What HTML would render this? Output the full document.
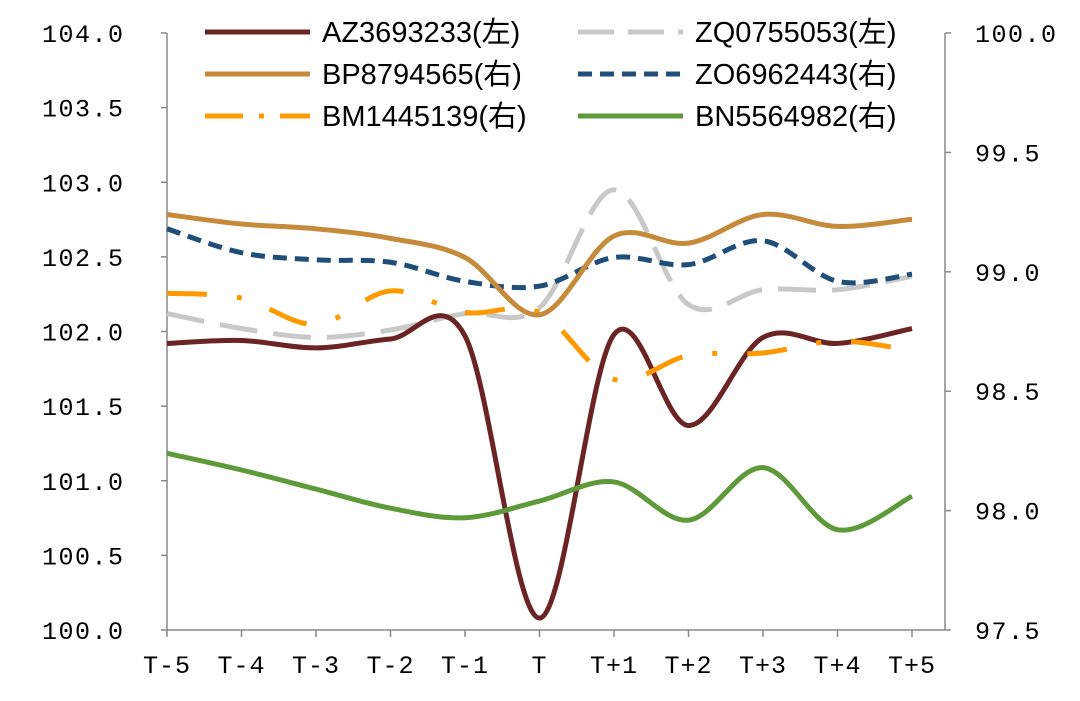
<!DOCTYPE html>
<html><head><meta charset="utf-8"><style>
html,body{margin:0;padding:0;background:#fff;}
svg{display:block;font-family:"Liberation Sans","Noto Sans CJK SC",sans-serif;}
.tk{font-family:"Liberation Mono","Noto Sans CJK SC",monospace;}
</style></head><body>
<svg id="chart" width="1080" height="701">
<g id="axes"></g><g id="series"></g><g id="legend"></g>
</svg>
<script>
const categories=["T-5","T-4","T-3","T-2","T-1","T","T+1","T+2","T+3","T+4","T+5"];
const leftTicks=["100.0","100.5","101.0","101.5","102.0","102.5","103.0","103.5","104.0"];
const rightTicks=["97.5","98.0","98.5","99.0","99.5","100.0"];
const azValues=[101.92,101.94,101.89,101.95,101.97,100.08,101.98,101.37,101.96,101.92,102.02];
const zqValues=[102.12,102.02,101.96,102.01,102.12,102.16,102.95,102.18,102.28,102.28,102.37];
const bpValues=[99.24,99.20,99.18,99.14,99.06,98.82,99.15,99.12,99.24,99.19,99.22];
const zoValues=[99.18,99.08,99.05,99.04,98.96,98.94,99.06,99.03,99.13,98.96,98.99];
const bmValues=[98.91,98.89,98.78,98.92,98.83,98.83,98.55,98.65,98.66,98.71,98.67];
const bnValues=[98.24,98.17,98.09,98.01,97.97,98.04,98.12,97.96,98.18,97.92,98.06];
const seriesNames=["AZ3693233(左)","ZQ0755053(左)","BP8794565(右)","ZO6962443(右)","BM1445139(右)","BN5564982(右)"];

const NS="http://www.w3.org/2000/svg";
const X0=167,X1=945,Y0=630,Y1=33;
const xs=i=>167+i*74.5;
const yL=v=>Y0-(v-100)/4*(Y0-Y1);
const yR=v=>Y0-(v-97.5)/2.5*(Y0-Y1);
function mk(tag,attrs,parent,txt){const e=document.createElementNS(NS,tag);for(const k in attrs)e.setAttribute(k,attrs[k]);if(txt!=null)e.textContent=txt;parent.appendChild(e);return e;}
const axes=document.getElementById('axes');
const la=mk('line',{x1:X0,y1:Y1,x2:X0,y2:Y0,stroke:'#888','stroke-width':1.5},axes);

const ra=mk('line',{x1:X1,y1:Y1,x2:X1,y2:Y0,stroke:'#888','stroke-width':1.5},axes);

const xa=mk('line',{x1:X0,y1:Y0,x2:X1,y2:Y0,stroke:'#888','stroke-width':1.5},axes);

leftTicks.forEach(t=>{const y=yL(parseFloat(t));
 mk('line',{x1:X0-6,y1:y,x2:X0,y2:y,stroke:'#888','stroke-width':1.5},axes);
 const e=mk('text',{x:42,y:y+9,'font-size':25,'letter-spacing':1.5,fill:'#000',class:'tk'},axes,t);
 });
rightTicks.forEach(t=>{const y=yR(parseFloat(t));
 mk('line',{x1:X1,y1:y,x2:X1+6,y2:y,stroke:'#888','stroke-width':1.5},axes);
 const e=mk('text',{x:975,y:y+9,'font-size':25,'letter-spacing':1.5,fill:'#000',class:'tk'},axes,t);
 });
categories.forEach((c,i)=>{const x=xs(i);
 mk('line',{x1:x,y1:Y0,x2:x,y2:Y0+7,stroke:'#888','stroke-width':1.5},axes);
 const e=mk('text',{x:x,y:673,'font-size':25,'letter-spacing':1,'text-anchor':'middle',fill:'#000',class:'tk'},axes,c);
 });
function path(pts){let d=`M${pts[0][0]},${pts[0][1]}`;
 for(let i=0;i<pts.length-1;i++){const p0=pts[Math.max(0,i-1)],p1=pts[i],p2=pts[i+1],p3=pts[Math.min(pts.length-1,i+2)];
  const t=6;d+=` C${p1[0]+(p2[0]-p0[0])/t},${p1[1]+(p2[1]-p0[1])/t} ${p2[0]-(p3[0]-p1[0])/t},${p2[1]-(p3[1]-p1[1])/t} ${p2[0]},${p2[1]}`;}
 return d;}
const styles=[
 {vals:azValues,ax:yL,col:'#6b2424',dash:'',name:'series-az3693233'},
 {vals:zqValues,ax:yL,col:'#c8c8c8',dash:'38 16',name:'series-zq0755053'},
 {vals:bpValues,ax:yR,col:'#c58a3a',dash:'',name:'series-bp8794565'},
 {vals:zoValues,ax:yR,col:'#1f4e79',dash:'14 8',name:'series-zo6962443'},
 {vals:bmValues,ax:yR,col:'#ff9900',dash:'40 30 5 30',name:'series-bm1445139'},
 {vals:bnValues,ax:yR,col:'#5e9a3a',dash:'',name:'series-bn5564982'}];
const sg=document.getElementById('series');
[1,0,5,4,3,2].forEach(k=>{const s=styles[k];
 const p=mk('path',{d:path(s.vals.map((v,i)=>[xs(i),s.ax(v)])),fill:'none',stroke:s.col,'stroke-width':5,'stroke-dasharray':s.dash},sg);
 });
const lg=document.getElementById('legend');
const lpos=[[205,32],[578,32],[205,74],[578,74],[205,116],[578,116]];
styles.forEach((s,k)=>{const [x,y]=lpos[k];
 const g=mk('g',{},lg);
 const dash=k==1?'36 14':k==3?'14 8':k==4?'38 16 5 16':'';
 mk('line',{x1:x,y1:y,x2:x+105,y2:y,stroke:s.col,'stroke-width':5,'stroke-dasharray':dash},g);
 mk('text',{x:x+117,y:y+10,'font-size':29,fill:'#000'},g,seriesNames[k]);});
</script>
</body></html>
